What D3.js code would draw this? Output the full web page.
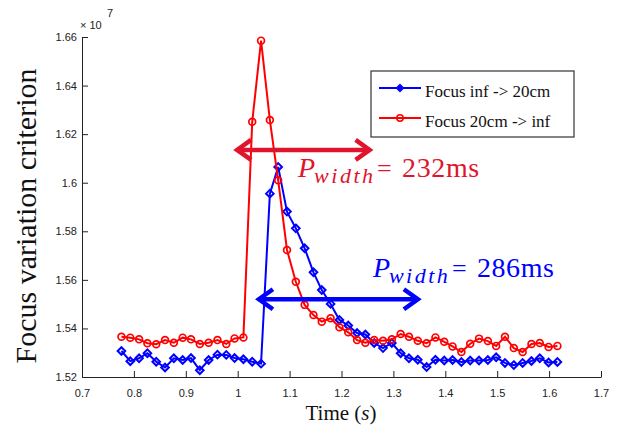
<!DOCTYPE html>
<html>
<head>
<meta charset="utf-8">
<script src="https://cdn.jsdelivr.net/npm/d3@7"></script>
<style>
  body { margin: 0; background: #fff; }
  svg { display: block; }
  .tick text { font-family: "Liberation Sans", Arial, sans-serif; font-size: 11px; fill: #222; }
  .serif { font-family: "Liberation Serif", "Times New Roman", serif; }
</style>
</head>
<body>
<svg id="chart" width="621" height="433"></svg>
<script>
// sample times (s), one frame at ~60 fps
var times = [0.776, 0.793, 0.810, 0.826, 0.843, 0.860, 0.877, 0.894, 0.910, 0.927,
  0.944, 0.961, 0.978, 0.994, 1.011, 1.028, 1.045, 1.062, 1.078, 1.095,
  1.112, 1.129, 1.146, 1.162, 1.179, 1.196, 1.213, 1.230, 1.246, 1.263,
  1.280, 1.297, 1.314, 1.330, 1.347, 1.364, 1.381, 1.398, 1.414, 1.431,
  1.448, 1.465, 1.482, 1.498, 1.515, 1.532, 1.549, 1.566, 1.582, 1.599, 1.616];

// focus criterion, x 10^7
var focusInfTo20 = [1.5307, 1.5265, 1.5277, 1.5298, 1.5263, 1.5239, 1.5277, 1.5270, 1.5278, 1.5228,
  1.5270, 1.5292, 1.5291, 1.5278, 1.5273, 1.5263, 1.5255, 1.5955, 1.6065, 1.5881,
  1.5812, 1.5730, 1.5631, 1.5558, 1.5501, 1.5435, 1.5412, 1.5381, 1.5375, 1.5340,
  1.5319, 1.5340, 1.5298, 1.5277, 1.5271, 1.5241, 1.5271, 1.5268, 1.5270, 1.5262,
  1.5268, 1.5268, 1.5270, 1.5281, 1.5258, 1.5249, 1.5258, 1.5266, 1.5277, 1.5260, 1.5262];

var focus20ToInf = [1.5366, 1.5362, 1.5355, 1.5339, 1.5335, 1.5352, 1.5341, 1.5362, 1.5355, 1.5336,
  1.5341, 1.5352, 1.5336, 1.5359, 1.5363, 1.6251, 1.6585, 1.6258, 1.6010, 1.5723,
  1.5592, 1.5497, 1.5455, 1.5428, 1.5442, 1.5405, 1.5384, 1.5352, 1.5341, 1.5352,
  1.5349, 1.5355, 1.5377, 1.5366, 1.5349, 1.5339, 1.5363, 1.5345, 1.5326, 1.5303,
  1.5337, 1.5358, 1.5348, 1.5328, 1.5366, 1.5319, 1.5303, 1.5336, 1.5340, 1.5324, 1.5328];

var seriesNames = ["Focus inf -> 20cm", "Focus 20cm -> inf"];
var xTicks = [0.7, 0.8, 0.9, 1.0, 1.1, 1.2, 1.3, 1.4, 1.5, 1.6, 1.7];
var yTicks = [1.52, 1.54, 1.56, 1.58, 1.60, 1.62, 1.64, 1.66];

// pulse width annotations: [start time, end time, level, width in ms]
var pulseBlue = [1.037, 1.351, 1.5520, 286];
var pulseRed = [0.995, 1.258, 1.6135, 232];

var svg = d3.select("#chart");

var padding = { top: 37, right: 20, bottom: 56, left: 82 };
var width = +svg.attr("width");
var height = +svg.attr("height");

var xScale = d3.scaleLinear()
  .domain([0.7, 1.7])
  .range([padding.left, 601]);

var yScale = d3.scaleLinear()
  .domain([1.52, 1.66])
  .range([height - padding.bottom, padding.top]);

var xAxis = d3.axisBottom(xScale)
  .tickValues(xTicks)
  .tickSizeInner(-6)
  .tickSizeOuter(0)
  .tickPadding(12)
  .tickFormat(function(d) { return +d.toFixed(1); });

var yAxis = d3.axisLeft(yScale)
  .tickValues(yTicks)
  .tickSizeInner(-6)
  .tickSizeOuter(0)
  .tickPadding(5)
  .tickFormat(function(d) { return +d.toFixed(2); });

svg.append("g")
  .attr("class", "x-axis")
  .attr("transform", `translate(0,${height - padding.bottom})`)
  .call(xAxis);

svg.append("g")
  .attr("class", "y-axis")
  .attr("transform", `translate(${padding.left},0)`)
  .call(yAxis);

svg.selectAll(".domain, .tick line").attr("stroke", "#222");

// exponent label
var expo = svg.append("text")
  .attr("x", 80)
  .attr("y", 29)
  .style("font-family", "Liberation Sans, Arial, sans-serif")
  .style("font-size", "11px")
  .style("fill", "#222");
expo.append("tspan").text("\u00d7 10");
expo.append("tspan").attr("x", 107).attr("y", 17).text("7");

// axis titles
svg.append("text")
  .attr("class", "serif")
  .attr("transform", "translate(36,216) rotate(-90)")
  .style("text-anchor", "middle")
  .style("font-size", "30px")
  .style("fill", "#111")
  .text("Focus variation criterion");

var xTitle = svg.append("text")
  .attr("class", "serif")
  .attr("x", 341)
  .attr("y", 420)
  .style("text-anchor", "middle")
  .style("font-size", "21px")
  .style("fill", "#111");
xTitle.append("tspan").text("Time (");
xTitle.append("tspan").style("font-style", "italic").text("s");
xTitle.append("tspan").text(")");

function diamond(r) {
  return `M0,${-r}L${r},0L0,${r}L${-r},0Z`;
}

function drawSeries(values, color, marker) {
  var pts = values.map(function(v, i) { return { t: times[i], v: v }; });

  var line = d3.line()
    .x(function(d) { return xScale(d.t); })
    .y(function(d) { return yScale(d.v); });

  svg.append("path")
    .datum(pts)
    .attr("d", line)
    .attr("fill", "none")
    .attr("stroke", color)
    .attr("stroke-width", 2);

  var g = svg.append("g");
  if (marker == "diamond") {
    g.selectAll("path")
      .data(pts)
      .enter()
      .append("path")
      .attr("transform", function(d) { return `translate(${xScale(d.t)},${yScale(d.v)})`; })
      .attr("d", diamond(3.8))
      .attr("fill", "none")
      .attr("stroke", color)
      .attr("stroke-width", 2);
  } else {
    g.selectAll("circle")
      .data(pts)
      .enter()
      .append("circle")
      .attr("cx", function(d) { return xScale(d.t); })
      .attr("cy", function(d) { return yScale(d.v); })
      .attr("r", 3.4)
      .attr("fill", "none")
      .attr("stroke", color)
      .attr("stroke-width", 1.7);
  }
}

drawSeries(focusInfTo20, "#0000ff", "diamond");
drawSeries(focus20ToInf, "#ff0000", "circle");

function drawPulse(p, color) {
  var x1 = xScale(p[0]), x2 = xScale(p[1]), y = yScale(p[2]);
  var g = svg.append("g")
    .attr("fill", "none")
    .attr("stroke", color)
    .attr("stroke-width", 4.5);
  g.append("line").attr("x1", x1 + 2).attr("x2", x2 - 2).attr("y1", y).attr("y2", y);
  g.append("path").attr("d", `M${x1 + 16},${y - 10}L${x1 + 2},${y}L${x1 + 16},${y + 10}`);
  g.append("path").attr("d", `M${x2 - 16},${y - 10}L${x2 - 2},${y}L${x2 - 16},${y + 10}`);
}

function drawPulseLabel(x, y, ms, color) {
  var g = svg.append("g")
    .attr("class", "serif")
    .style("fill", color);
  g.append("text").attr("x", x).attr("y", y)
    .style("font-size", "28px").style("font-style", "italic").text("P");
  g.append("text").attr("x", x + 16).attr("y", y + 6)
    .style("font-size", "22px").style("font-style", "italic")
    .style("letter-spacing", "2.5px").text("width");
  g.append("text").attr("x", x + 79).attr("y", y)
    .style("font-size", "26px").text("=");
  g.append("text").attr("x", x + 104).attr("y", y)
    .style("font-size", "28px").style("letter-spacing", "0.6px").text(ms + "ms");
}

drawPulse(pulseRed, "#e0142c");
drawPulse(pulseBlue, "#0000ff");
drawPulseLabel(xScale(pulseRed[0]) + 63, yScale(pulseRed[2]) + 27, pulseRed[3], "#e0142c");
drawPulseLabel(xScale(pulseBlue[0]) + 116, yScale(pulseBlue[2]) - 22, pulseBlue[3], "#0000ff");

// legend
var legend = svg.append("g").attr("transform", "translate(371,71)");
legend.append("rect")
  .attr("width", 203)
  .attr("height", 66)
  .attr("fill", "#fff")
  .attr("stroke", "#333")
  .attr("stroke-width", 1.2);

var legendColors = ["#0000ff", "#ff0000"];
seriesNames.forEach(function(name, i) {
  var y = 17 + i * 30;
  legend.append("line")
    .attr("x1", 8).attr("x2", 50).attr("y1", y).attr("y2", y)
    .attr("stroke", legendColors[i]).attr("stroke-width", 2);
  if (i == 0) {
    legend.append("path")
      .attr("transform", `translate(29,${y})`)
      .attr("d", diamond(3.6))
      .attr("fill", legendColors[i])
      .attr("stroke", legendColors[i])
      .attr("stroke-width", 1.2);
  } else {
    legend.append("circle")
      .attr("cx", 29).attr("cy", y).attr("r", 3.2)
      .attr("fill", "none")
      .attr("stroke", legendColors[i])
      .attr("stroke-width", 1.5);
  }
  legend.append("text")
    .attr("class", "serif")
    .attr("x", 54)
    .attr("y", y + 9)
    .style("font-size", "17px")
    .style("fill", "#111")
    .text(name);
});
</script>
</body>
</html>
